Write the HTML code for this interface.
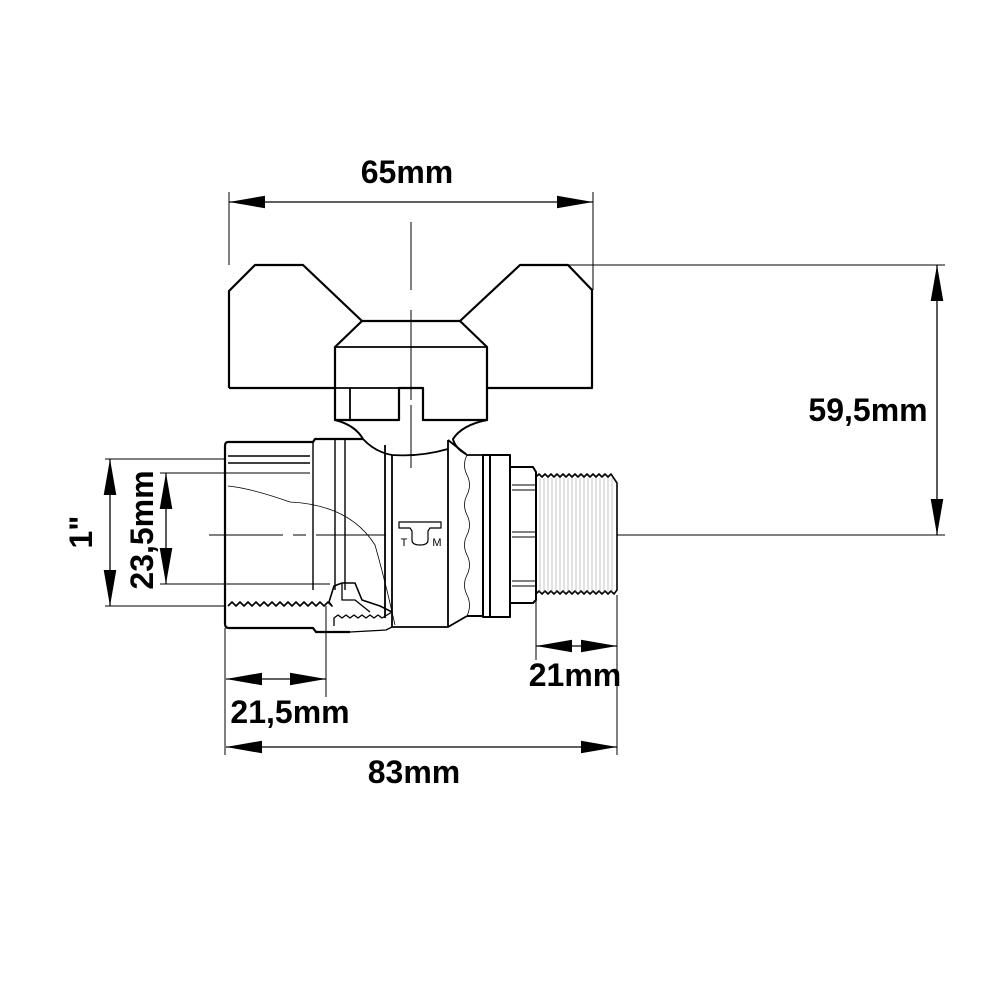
<!DOCTYPE html>
<html><head><meta charset="utf-8"><style>html,body{margin:0;padding:0;background:#fff}svg{display:block}</style></head>
<body>
<svg width="1000" height="1000" viewBox="0 0 1000 1000" xmlns="http://www.w3.org/2000/svg">
<defs>
<marker id="b" viewBox="0 0 40 14" refX="40" refY="7" markerWidth="36" markerHeight="14" markerUnits="userSpaceOnUse" orient="auto-start-reverse"><path d="M0,0 L40,7 L0,14 z" fill="#000"/></marker>
</defs>
<g fill="none" stroke="#000" stroke-linejoin="round">
<path stroke-width="2.2" d="M229,388 L229,291 L255,265 L303,265 L362,321 L460,321 L520,265 L568,265 L592,290 L592,388 L487,388 M229,388 L335,388"/>
<path stroke-width="2.2" d="M362,321 L335,347 L335,420 L399,420 L399,388 L423,388 L423,420 L487,420 L487,347 L460,321"/>
<path stroke-width="1.8" d="M335,347 L487,347 M335,388 L399,388 M350,388 L350,420"/>
<path stroke-width="2" d="M335,420 Q355,425 363,439 M487,420 Q462,425 453,439 Q455,448 466,454"/>
<path stroke-width="2.2" d="M228,442 L313,442 L315,439 L363,439 M228,442 Q225,442 225,446 L225,624 Q225,628 229,628 L313,628 L316,632 L350,632"/>
<path stroke-width="1.4" d="M313,442 L313,590 M335,440 L335,590 M345,440 L345,590 M228,456 L310,456 M228,463 L310,463"/>
<path stroke-width="0.8" d="M228,486 Q250,488 290,502 Q350,505 375,545 Q385,580 395,625"/>
<path stroke-width="1.6" d="M228,606 l4,-4 4,4 4,-4 4,4 4,-4 4,4 4,-4 4,4 4,-4 4,4 4,-4 4,4 4,-4 4,4 4,-4 4,4 4,-4 4,4 4,-4 4,4 4,-4 4,4 4,-4 4,4 4,-4 4,4 L329,602 L334,586 L342,583 L355,583 L362,600 L380,606 L392,612"/>
<path stroke-width="1.3" d="M342,583 L342,600 L355,600 L370,612 M334,626 L334,618 l4,-3 4,3 4,-3 4,3 4,-3 4,3 4,-3 4,3 4,-3 4,3 4,-3 4,3 L392,612 M350,632 L386,630 L392,627"/>
<path stroke-width="1.8" d="M385,445 L385,618 M392,455 L392,627 M448,440 L448,626 M363,439 Q375,452 392,455 Q420,457 448,449 M392,627 L448,627 L467,616 M448,440 L467,455 L483,455"/>
<path stroke-width="0.8" d="M467,455 q-5,10 0,20 q5,10 0,20 q-5,10 0,20 q5,10 0,20 q-5,10 0,20 q5,10 0,20 q-5,10 0,20 q5,10 0,21"/>
<path stroke-width="2" d="M467,616 L483,616 M483,455 L510,455 L510,617 L483,617 Z M490,455 L490,617"/>
<path stroke-width="2" d="M510,467 L533,467 L536,472 L536,600 L533,603 L510,603"/>
<path stroke-width="1" d="M512,485 L535,485 M512,490 L535,490 M512,532 L535,532 M512,537 L535,537 M512,581 L535,581 M512,586 L535,586"/>
<path stroke-width="1.6" d="M536,477 l3,-3 3,3 3,-3 3,3 3,-3 3,3 3,-3 3,3 3,-3 3,3 3,-3 3,3 3,-3 3,3 3,-3 3,3 3,-3 3,3 3,-3 3,3 3,-3 3,3 3,-3 3,3 3,-3 L617,483 L617,590 L614,594 l-3,-3 -3,3 -3,-3 -3,3 -3,-3 -3,3 -3,-3 -3,3 -3,-3 -3,3 -3,-3 -3,3 -3,-3 -3,3 -3,-3 -3,3 -3,-3 -3,3 -3,-3 -3,3 -3,-3 -3,3 -3,-3 -3,3 -3,-3 L536,594"/>
<path stroke-width="0.5" stroke="#888" d="M540,478V592M544,478V592M548,478V592M552,478V592M556,478V592M560,478V592M564,478V592M568,478V592M572,478V592M576,478V592M580,478V592M584,478V592M588,478V592M592,478V592M596,478V592M600,478V592M604,478V592M608,478V592M612,478V592"/>
<path stroke-width="1.2" d="M399,522 L441,522 L441,528 L430,528 L428,531 L428,540 Q428,545 420,545 Q412,545 412,540 L412,531 L410,528 L399,528 Z"/>
<path stroke-width="1" d="M411,222 L411,290 M411,310 L411,400 M411,405 L411,468 M209,535 L283,535 M293,535 L306,535 M316,535 L386,535 M617,535 L945,535 M568,265 L945,265"/>
<path stroke-width="1" d="M229,192 L229,265 M593,192 L593,290"/>
<path stroke-width="1.3" marker-start="url(#b)" marker-end="url(#b)" d="M229,202 L593,202"/>
<path stroke-width="1.3" marker-start="url(#b)" marker-end="url(#b)" d="M937,265 L937,535"/>
<path stroke-width="1" d="M105,459 L225,459 M105,606 L225,606 M160,473 L310,473 M160,584 L330,584"/>
<path stroke-width="1.3" marker-start="url(#b)" marker-end="url(#b)" d="M110,459 L110,606"/>
<path stroke-width="1.3" marker-start="url(#b)" marker-end="url(#b)" d="M166,473 L166,584"/>
<path stroke-width="1" d="M225,628 L225,755 M326,606 L326,697 M536,600 L536,660 M617,595 L617,755"/>
<path stroke-width="1.3" marker-start="url(#b)" marker-end="url(#b)" d="M226,679 L326,679"/>
<path stroke-width="1.3" marker-start="url(#b)" marker-end="url(#b)" d="M536,646 L617,646"/>
<path stroke-width="1.3" marker-start="url(#b)" marker-end="url(#b)" d="M226,747 L617,747"/>
</g>
<g font-family="Liberation Sans, sans-serif" font-weight="bold" font-size="32" fill="#000" text-anchor="middle">
<text x="407" y="183">65mm</text>
<text x="868" y="421">59,5mm</text>
<text x="575" y="686">21mm</text>
<text x="290" y="723">21,5mm</text>
<text x="414" y="783">83mm</text>
<text transform="translate(92,532) rotate(-90)">1"</text>
<text transform="translate(153,530) rotate(-90)">23,5mm</text>
</g>
<g font-family="Liberation Sans, sans-serif" font-size="11" fill="#000" text-anchor="middle"><text x="404" y="546">T</text><text x="437" y="546">M</text></g>
</svg>
</body></html>
